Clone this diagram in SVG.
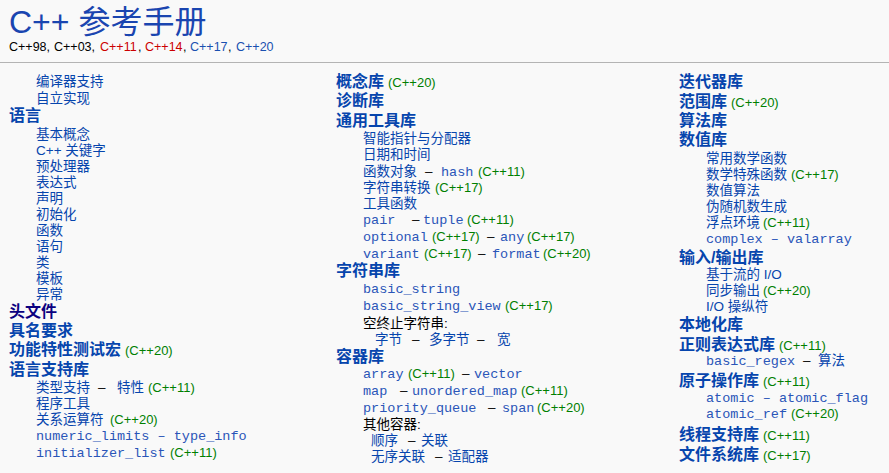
<svg xmlns="http://www.w3.org/2000/svg" width="889" height="473" viewBox="0 0 889 473">
<style>
text{font-family:"Liberation Sans","Noto Sans CJK SC",sans-serif;fill:#0645ad}
.ti{font-size:32px;fill:#1a45b0}
.sub{font-size:12.5px;fill:#000}
.h{font-size:16px;font-weight:bold}
.v{fill:#0b0080}
.i{font-size:13.5px}
.m{font-family:"Liberation Mono","Noto Sans CJK SC",monospace;font-size:13.5px;fill:#2a55b8}
.t{font-family:"Liberation Sans",sans-serif;font-size:13px;fill:#008000}
.k{fill:#000}
.r{fill:#c00}
.b{fill:#1a50b0}
</style>
<rect width="889" height="473" fill="#f9f9f9"/>
<g id="header">
<text class="ti" x="9" y="33">C++ 参考手册</text>
<text class="sub" x="9" y="51">C++98,</text>
<text class="sub" x="54" y="51">C++03,</text>
<text class="sub r" x="100" y="51">C++11</text>
<text class="sub" x="138" y="51">,</text>
<text class="sub r" x="145" y="51">C++14</text>
<text class="sub" x="183" y="51">,</text>
<text class="sub b" x="190" y="51">C++17</text>
<text class="sub" x="228" y="51">,</text>
<text class="sub b" x="236" y="51">C++20</text>
<line x1="0" y1="62.5" x2="889" y2="62.5" stroke="#b4b4b4" stroke-width="1"/>
</g>
<g id="col1">
<text class="i" x="36" y="86">编译器支持</text>
<text class="i" x="36" y="103">自立实现</text>
<text class="h" x="9" y="121">语言</text>
<text class="i" x="36" y="139">基本概念</text>
<text class="i" x="36" y="155">C++ 关键字</text>
<text class="i" x="36" y="171">预处理器</text>
<text class="i" x="36" y="187">表达式</text>
<text class="i" x="36" y="203">声明</text>
<text class="i" x="36" y="219">初始化</text>
<text class="i" x="36" y="235">函数</text>
<text class="i" x="36" y="251">语句</text>
<text class="i" x="36" y="267">类</text>
<text class="i" x="36" y="283">模板</text>
<text class="i" x="36" y="299">异常</text>
<text class="h v" x="9" y="317">头文件</text>
<text class="h" x="9" y="336">具名要求</text>
<text class="h" x="9" y="355">功能特性测试宏</text>
<text class="t" x="125" y="355">(C++20)</text>
<text class="h" x="9" y="375">语言支持库</text>
<text class="i" x="36" y="392">类型支持</text>
<text class="i k" x="98" y="392">–</text>
<text class="i" x="117" y="392">特性</text>
<text class="t" x="148" y="392">(C++11)</text>
<text class="i" x="36" y="408">程序工具</text>
<text class="i" x="36" y="424">关系运算符</text>
<text class="t" x="110" y="424">(C++20)</text>
<text class="m" x="36" y="440">numeric_limits – type_info</text>
<text class="m" x="36" y="457">initializer_list</text>
<text class="t" x="170" y="457">(C++11)</text>
</g>
<g id="col2">
<text class="h" x="336" y="87">概念库</text>
<text class="t" x="388" y="87">(C++20)</text>
<text class="h" x="336" y="106">诊断库</text>
<text class="h" x="336" y="126">通用工具库</text>
<text class="i" x="363" y="143">智能指针与分配器</text>
<text class="i" x="363" y="159">日期和时间</text>
<text class="i" x="363" y="176">函数对象</text>
<text class="i k" x="425" y="176">–</text>
<text class="m" x="441" y="176">hash</text>
<text class="t" x="478" y="176">(C++11)</text>
<text class="i" x="363" y="192">字符串转换</text>
<text class="t" x="435" y="192">(C++17)</text>
<text class="i" x="363" y="208">工具函数</text>
<text class="m" x="363" y="224">pair</text>
<text class="i k" x="412" y="224">–</text>
<text class="m" x="423" y="224">tuple</text>
<text class="t" x="467" y="224">(C++11)</text>
<text class="m" x="363" y="241">optional</text>
<text class="t" x="432" y="241">(C++17)</text>
<text class="i k" x="487" y="241">–</text>
<text class="m" x="500" y="241">any</text>
<text class="t" x="527" y="241">(C++17)</text>
<text class="m" x="363" y="258">variant</text>
<text class="t" x="424" y="258">(C++17)</text>
<text class="i k" x="478" y="258">–</text>
<text class="m" x="492" y="258">format</text>
<text class="t" x="543" y="258">(C++20)</text>
<text class="h" x="336" y="276">字符串库</text>
<text class="m" x="363" y="293">basic_string</text>
<text class="m" x="363" y="310">basic_string_view</text>
<text class="t" x="505" y="310">(C++17)</text>
<text class="i k" x="363" y="328">空终止字符串:</text>
<text class="i" x="375" y="344">字节</text>
<text class="i k" x="412" y="344">–</text>
<text class="i" x="429" y="344">多字节</text>
<text class="i k" x="477" y="344">–</text>
<text class="i" x="497" y="344">宽</text>
<text class="h" x="336" y="362">容器库</text>
<text class="m" x="363" y="378">array</text>
<text class="t" x="408" y="378">(C++11)</text>
<text class="i k" x="462" y="378">–</text>
<text class="m" x="474" y="378">vector</text>
<text class="m" x="363" y="395">map</text>
<text class="i k" x="400" y="395">–</text>
<text class="m" x="412" y="395">unordered_map</text>
<text class="t" x="521" y="395">(C++11)</text>
<text class="m" x="363" y="412">priority_queue</text>
<text class="i k" x="488" y="412">–</text>
<text class="m" x="502" y="412">span</text>
<text class="t" x="537" y="412">(C++20)</text>
<text class="i k" x="363" y="429">其他容器:</text>
<text class="i" x="371" y="445">顺序</text>
<text class="i k" x="408" y="445">–</text>
<text class="i" x="421" y="445">关联</text>
<text class="i" x="371" y="461">无序关联</text>
<text class="i k" x="435" y="461">–</text>
<text class="i" x="448" y="461">适配器</text>
</g>
<g id="col3">
<text class="h" x="679" y="87">迭代器库</text>
<text class="h" x="679" y="107">范围库</text>
<text class="t" x="731" y="107">(C++20)</text>
<text class="h" x="679" y="126">算法库</text>
<text class="h" x="679" y="145">数值库</text>
<text class="i" x="706" y="163">常用数学函数</text>
<text class="i" x="706" y="179">数学特殊函数</text>
<text class="t" x="791" y="179">(C++17)</text>
<text class="i" x="706" y="195">数值算法</text>
<text class="i" x="706" y="211">伪随机数生成</text>
<text class="i" x="706" y="227">浮点环境</text>
<text class="t" x="763" y="227">(C++11)</text>
<text class="m" x="706" y="243">complex – valarray</text>
<text class="h" x="679" y="263">输入/输出库</text>
<text class="i" x="706" y="279">基于流的 I/O</text>
<text class="i" x="706" y="295">同步输出</text>
<text class="t" x="763" y="295">(C++20)</text>
<text class="i" x="706" y="311">I/O 操纵符</text>
<text class="h" x="679" y="330">本地化库</text>
<text class="h" x="679" y="350">正则表达式库</text>
<text class="t" x="779" y="350">(C++11)</text>
<text class="m" x="706" y="365">basic_regex</text>
<text class="i k" x="803" y="365">–</text>
<text class="i" x="818" y="365">算法</text>
<text class="h" x="679" y="386">原子操作库</text>
<text class="t" x="763" y="386">(C++11)</text>
<text class="m" x="706" y="402">atomic – atomic_flag</text>
<text class="m" x="706" y="418">atomic_ref</text>
<text class="t" x="791" y="418">(C++20)</text>
<text class="h" x="679" y="440">线程支持库</text>
<text class="t" x="763" y="440">(C++11)</text>
<text class="h" x="679" y="460">文件系统库</text>
<text class="t" x="763" y="460">(C++17)</text>
</g>
</svg>
